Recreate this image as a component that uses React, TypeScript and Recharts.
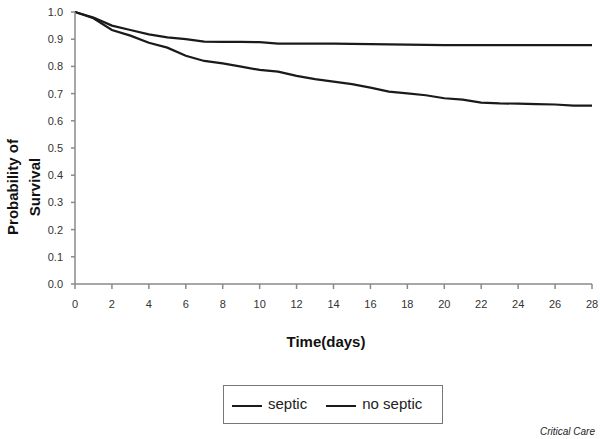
import React from "react";
import { LineChart, Line, XAxis, YAxis, Legend } from "recharts";

const days = [0,1,2,3,4,5,6,7,8,9,10,11,12,13,14,15,16,17,18,19,20,21,22,23,24,25,26,27,28];
const septic = [1.0,0.977,0.934,0.913,0.887,0.869,0.839,0.82,0.811,0.799,0.787,0.781,0.765,0.753,0.744,0.735,0.722,0.707,0.701,0.694,0.683,0.678,0.667,0.664,0.663,0.661,0.66,0.656,0.656];
const noSeptic = [1.0,0.98,0.95,0.934,0.918,0.907,0.9,0.891,0.89,0.89,0.889,0.884,0.884,0.884,0.884,0.883,0.882,0.881,0.88,0.879,0.878,0.878,0.878,0.878,0.878,0.878,0.878,0.878,0.878];
const xTicks = [0,2,4,6,8,10,12,14,16,18,20,22,24,26,28];
const yTicks = [0,0.1,0.2,0.3,0.4,0.5,0.6,0.7,0.8,0.9,1.0];
const seriesNames = ["septic", "no septic"];

const data = days.map((d, i) => ({ day: d, septic: septic[i], noSeptic: noSeptic[i] }));

const FONT = "'Liberation Sans', Arial, sans-serif";

const LegendBox = (props: any) => {
  const items = [...(props.payload || [])].sort(
    (a: any, b: any) => seriesNames.indexOf(a.value) - seriesNames.indexOf(b.value)
  );
  return (
    <div style={{ width: 220, height: 39, border: "1px solid #777", boxSizing: "border-box", display: "flex", alignItems: "center", fontFamily: FONT, fontSize: 15, color: "#222" }}>
      {items.map((it: any, i: number) => (
        <div key={i} style={{ display: "flex", alignItems: "center", marginLeft: i === 0 ? 8 : 19, marginTop: -3 }}>
          <div style={{ width: 30, height: 2, background: "#1a1a1a", marginRight: 6, marginTop: 5 }} />
          <span>{it.value}</span>
        </div>
      ))}
    </div>
  );
};

export default function App() {
  return (
    <div style={{ position: "absolute", left: 0, top: 0, width: 600, height: 439, background: "#fff" }}>
      <LineChart width={600} height={439} data={data} margin={{ top: 12, right: 8, bottom: 125, left: 0 }}>
        <XAxis
          dataKey="day"
          type="number"
          domain={[0, 28]}
          ticks={xTicks}
          height={30}
          stroke="#8a8a8a"
          strokeWidth={1.5}
          tickSize={5}
          tickMargin={11}
          tick={{ fill: "#333", fontSize: 11, fontFamily: FONT }}
        />
        <YAxis
          type="number"
          domain={[0, 1]}
          ticks={yTicks}
          width={75}
          stroke="#8a8a8a"
          strokeWidth={1.5}
          tickSize={4}
          tickMargin={8}
          tickFormatter={(v: number) => v.toFixed(1)}
          tick={{ fill: "#333", fontSize: 11, fontFamily: FONT }}
        />
        <Line dataKey="septic" name={seriesNames[0]} type="linear" stroke="#1a1a1a" strokeWidth={2.2} dot={false} isAnimationActive={false} />
        <Line dataKey="noSeptic" name={seriesNames[1]} type="linear" stroke="#1a1a1a" strokeWidth={2.2} dot={false} isAnimationActive={false} />
        <Legend
          layout="horizontal"
          verticalAlign="middle"
          align="center"
          content={LegendBox}
          wrapperStyle={{ position: "absolute", left: 223, top: 385, width: 220, height: 39 }}
        />
      </LineChart>
      <div style={{ position: "absolute", left: 226, top: 333, width: 200, textAlign: "center", fontFamily: FONT, fontWeight: "bold", fontSize: 15, color: "#111" }}>
        Time(days)
      </div>
      <div style={{ position: "absolute", left: -76, top: 165, width: 200, height: 44, lineHeight: "22px", transform: "rotate(-90deg)", textAlign: "center", fontFamily: FONT, fontWeight: "bold", fontSize: 15, color: "#111" }}>
        Probability of<br />Survival
      </div>
      <div style={{ position: "absolute", left: 540, top: 426, fontFamily: FONT, fontStyle: "italic", fontSize: 10, color: "#222" }}>
        Critical Care
      </div>
    </div>
  );
}
